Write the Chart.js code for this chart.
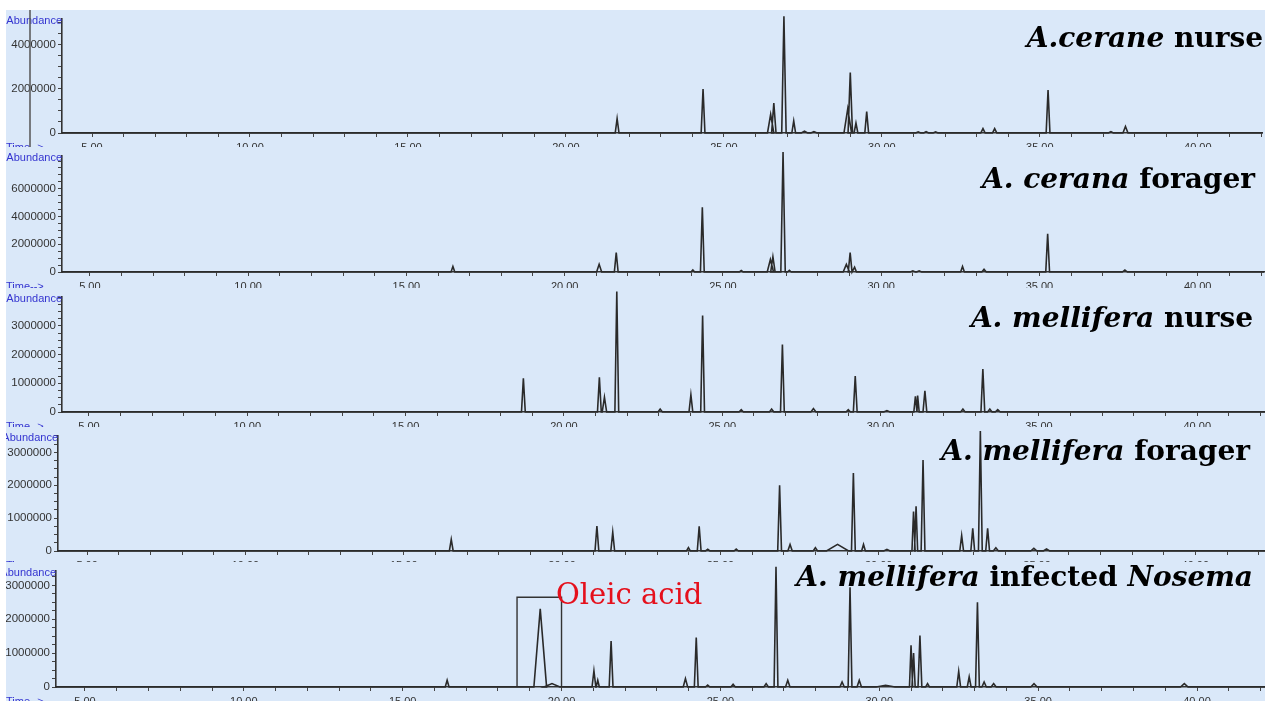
<!DOCTYPE html>
<html>
<head>
<meta charset="utf-8">
<script src="https://cdn.jsdelivr.net/npm/chart.js@4.4.0/dist/chart.umd.min.js"></script>
<style>
  html, body { margin: 0; padding: 0; background: #fff; }
  body { width: 1271px; height: 701px; position: relative; overflow: hidden; }
  #sheet { position: absolute; left: 6px; top: 10px; width: 1259px; height: 691px; background: rgb(218, 232, 249); }
  .panel { position: absolute; left: 6px; width: 1259px; }
</style>
</head>
<body>
<div id="sheet"></div>
<div class="panel" style="top:10px;height:137px"><canvas id="p1"></canvas></div>
<div class="panel" style="top:147px;height:141px"><canvas id="p2"></canvas></div>
<div class="panel" style="top:288px;height:139px"><canvas id="p3"></canvas></div>
<div class="panel" style="top:427px;height:135px"><canvas id="p4"></canvas></div>
<div class="panel" style="top:562px;height:139px"><canvas id="p5"></canvas></div>
<script>
// Axis ticks (retention time, min)
const xTickValues = [5, 10, 15, 20, 25, 30, 35, 40];
const xTickLabels = ['5.00', '10.00', '15.00', '20.00', '25.00', '30.00', '35.00', '40.00'];

// Abundance ticks per panel
const yTicks1 = [0, 2000000, 4000000];
const yTicks2 = [0, 2000000, 4000000, 6000000];
const yTicks3 = [0, 1000000, 2000000, 3000000];
const yTicks4 = [0, 1000000, 2000000, 3000000];
const yTicks5 = [0, 1000000, 2000000, 3000000];

// Panel 1 - A. cerana nurse
const ceranaNurseTimes   = [21.62, 24.34, 26.48, 26.58, 26.90, 27.21, 27.55, 27.85, 28.92, 29.00, 29.18, 29.52, 31.15, 31.40, 31.70, 33.20, 33.57, 35.26, 37.25, 37.71];
const ceranaNurseHeights = [650000, 2000000, 850000, 1360000, 5300000, 550000, 80000, 60000, 1100000, 2740000, 450000, 970000, 50000, 60000, 50000, 200000, 200000, 1950000, 60000, 300000];
const ceranaNurseWidths  = [0.06, 0.06, 0.10, 0.07, 0.07, 0.06, 0.10, 0.10, 0.12, 0.07, 0.06, 0.06, 0.08, 0.08, 0.08, 0.07, 0.07, 0.06, 0.08, 0.08];

// Panel 2 - A. cerana forager
const ceranaForagerTimes   = [16.47, 21.09, 21.63, 24.05, 24.35, 25.58, 26.50, 26.58, 26.90, 27.10, 28.90, 29.02, 29.16, 31.00, 31.20, 32.57, 33.25, 35.26, 37.70];
const ceranaForagerHeights = [400000, 550000, 1400000, 150000, 4660000, 100000, 900000, 1100000, 8650000, 120000, 550000, 1400000, 350000, 80000, 80000, 400000, 200000, 2750000, 150000];
const ceranaForagerWidths  = [0.06, 0.08, 0.06, 0.06, 0.06, 0.06, 0.10, 0.07, 0.07, 0.06, 0.10, 0.06, 0.06, 0.08, 0.08, 0.06, 0.07, 0.06, 0.08];

// Panel 3 - A. mellifera nurse
const melliferaNurseTimes   = [18.72, 21.12, 21.28, 21.67, 23.04, 24.01, 24.38, 25.60, 26.56, 26.90, 27.88, 28.98, 29.20, 30.20, 31.10, 31.17, 31.40, 32.60, 33.23, 33.45, 33.70];
const melliferaNurseHeights = [1170000, 1210000, 520000, 4200000, 100000, 600000, 3360000, 80000, 100000, 2350000, 120000, 80000, 1250000, 50000, 550000, 570000, 740000, 100000, 1500000, 100000, 80000];
const melliferaNurseWidths  = [0.06, 0.06, 0.07, 0.06, 0.07, 0.06, 0.06, 0.07, 0.07, 0.06, 0.08, 0.07, 0.06, 0.10, 0.05, 0.05, 0.06, 0.07, 0.06, 0.07, 0.08];

// Panel 4 - A. mellifera forager
const melliferaForagerTimes   = [16.50, 21.10, 21.60, 23.99, 24.33, 24.60, 25.50, 26.87, 27.20, 28.00, 28.70, 29.20, 29.52, 30.26, 31.10, 31.18, 31.40, 32.62, 32.97, 33.21, 33.44, 33.70, 34.90, 35.30];
const melliferaForagerHeights = [350000, 760000, 570000, 100000, 750000, 50000, 60000, 2000000, 200000, 100000, 200000, 2370000, 200000, 50000, 1200000, 1360000, 2770000, 470000, 690000, 3650000, 690000, 100000, 80000, 60000];
const melliferaForagerWidths  = [0.06, 0.06, 0.06, 0.06, 0.06, 0.07, 0.07, 0.06, 0.07, 0.07, 0.35, 0.06, 0.06, 0.10, 0.05, 0.05, 0.06, 0.06, 0.06, 0.06, 0.06, 0.08, 0.10, 0.10];

// Panel 5 - A. mellifera infected Nosema
const nosemaTimes   = [16.40, 19.33, 19.70, 21.02, 21.14, 21.56, 23.90, 24.24, 24.60, 25.40, 26.44, 26.75, 27.12, 28.83, 29.08, 29.37, 30.20, 31.00, 31.08, 31.28, 31.52, 32.50, 32.83, 33.09, 33.30, 33.60, 34.87, 39.60];
const nosemaHeights = [200000, 2310000, 100000, 480000, 200000, 1360000, 250000, 1460000, 60000, 80000, 100000, 3550000, 200000, 150000, 2950000, 200000, 50000, 1230000, 1000000, 1520000, 100000, 460000, 300000, 2500000, 150000, 100000, 100000, 100000];
const nosemaWidths  = [0.06, 0.20, 0.25, 0.06, 0.05, 0.06, 0.07, 0.06, 0.07, 0.07, 0.07, 0.06, 0.07, 0.07, 0.06, 0.07, 0.30, 0.05, 0.05, 0.06, 0.06, 0.06, 0.06, 0.06, 0.07, 0.08, 0.10, 0.12];

// Oleic acid bracket (min, abundance)
const oleicBoxTimes = [18.6, 20.0];
const oleicBoxTop = 2650000;

const minuteTicks = [];
for (let m = 5; m <= 42; m++) minuteTicks.push(m);

// Turn a peak list into a chromatogram trace
function buildTrace(times, heights, widths, xMin, xMax) {
    const pts = [{ x: xMin, y: 0 }];
    times.forEach((t, i) => {
        pts.push({ x: t - widths[i], y: 0 }, { x: t, y: heights[i] }, { x: t + widths[i], y: 0 });
    });
    pts.push({ x: xMax, y: 0 });
    return pts;
}

// Text overlays: Abundance / Time labels, panel title, annotations
const overlay = {
    id: 'overlay',
    afterDraw(chart) {
        const o = chart.options.plugins.overlay;
        const ctx = chart.ctx;
        const a = chart.chartArea;
        ctx.save();
        ctx.fillStyle = '#3434d0';
        ctx.font = '11px "Liberation Sans"';
        ctx.textAlign = 'right';
        ctx.textBaseline = 'top';
        ctx.fillText('Abundance', a.left, Math.max(a.top - 3, 1));
        ctx.textAlign = 'left';
        ctx.fillText('Time-->', 0, a.bottom + 9);

        if (o.artifactX != null) {
            ctx.strokeStyle = '#555';
            ctx.lineWidth = 1.5;
            ctx.beginPath();
            ctx.moveTo(o.artifactX, 0);
            ctx.lineTo(o.artifactX, chart.height);
            ctx.stroke();
        }

        // title, right aligned, mixed italic / upright
        ctx.fillStyle = '#000';
        ctx.textBaseline = 'alphabetic';
        const fonts = o.title.map(p => (p.italic ? 'italic ' : '') + 'bold ' + o.titleSize + 'px "DejaVu Serif"');
        let total = 0;
        o.title.forEach((p, i) => { ctx.font = fonts[i]; total += ctx.measureText(p.text).width; });
        let x = o.titleRight - total;
        o.title.forEach((p, i) => {
            ctx.font = fonts[i];
            ctx.fillText(p.text, x, o.titleBaseline);
            x += ctx.measureText(p.text).width;
        });

        if (o.note) {
            ctx.fillStyle = '#e5101c';
            ctx.font = '29px "DejaVu Serif"';
            ctx.fillText(o.note.text, o.note.x, o.note.y);
        }
        ctx.restore();
    }
};

function makePanel(id, p) {
    const datasets = [{
        data: buildTrace(p.times, p.heights, p.widths, p.xMin, p.xMax),
        borderColor: '#2a2a2a',
        borderWidth: 1.6,
        pointRadius: 0,
        tension: 0,
        clip: false
    }];
    if (p.box) {
        datasets.push({
            data: [
                { x: p.box[0], y: 0 }, { x: p.box[0], y: p.boxTop },
                { x: p.box[1], y: p.boxTop }, { x: p.box[1], y: 0 }
            ],
            borderColor: '#333',
            borderWidth: 1.4,
            pointRadius: 0,
            tension: 0
        });
    }
    const yStep = p.yTicks[1] / 4;
    const yAll = [];
    for (let v = 0; v <= p.yMax; v += yStep) yAll.push(v);

    return new Chart(document.getElementById(id), {
        type: 'line',
        data: { datasets },
        plugins: [overlay],
        options: {
            responsive: true,
            maintainAspectRatio: false,
            animation: false,
            events: [],
            layout: { padding: { top: p.padTop, left: 0, right: 0, bottom: 0 } },
            scales: {
                x: {
                    type: 'linear',
                    min: p.xMin,
                    max: p.xMax,
                    afterBuildTicks: s => { s.ticks = minuteTicks.filter(v => v >= s.min && v <= s.max).map(v => ({ value: v })); },
                    afterFit: s => { s.height = p.xHeight; },
                    ticks: {
                        autoSkip: false,
                        maxRotation: 0,
                        padding: 4,
                        color: '#333',
                        font: { family: 'Liberation Sans', size: 11 },
                        callback: v => { const i = xTickValues.indexOf(v); return i >= 0 ? xTickLabels[i] : ''; }
                    },
                    grid: { drawOnChartArea: false, drawTicks: true, tickLength: 4, color: '#444' },
                    border: { color: '#333', width: 1.6 }
                },
                y: {
                    min: 0,
                    max: p.yMax,
                    afterBuildTicks: s => { s.ticks = yAll.map(v => ({ value: v })); },
                    afterFit: s => { s.width = p.yWidth; },
                    ticks: {
                        autoSkip: false,
                        padding: 2,
                        color: '#333',
                        font: { family: 'Liberation Sans', size: 11.5 },
                        callback: v => (p.yTicks.indexOf(v) >= 0 ? String(v) : '')
                    },
                    grid: { drawOnChartArea: false, drawTicks: true, tickLength: 4, color: '#444' },
                    border: { color: '#333', width: 1.6 }
                }
            },
            plugins: {
                legend: { display: false },
                tooltip: { enabled: false },
                overlay: {
                    title: p.title,
                    titleSize: 28,
                    titleRight: p.titleRight,
                    titleBaseline: p.titleBaseline,
                    artifactX: p.artifactX,
                    note: p.note
                }
            }
        }
    });
}

makePanel('p1', {
    times: ceranaNurseTimes, heights: ceranaNurseHeights, widths: ceranaNurseWidths,
    xMin: 4.05, xMax: 42.05, yMax: 5180000, yTicks: yTicks1,
    padTop: 0, xHeight: 14, yWidth: 56,
    title: [{ text: 'A.cerane', italic: true }, { text: ' nurse' }],
    titleRight: 1257, titleBaseline: 37, artifactX: 24
});
makePanel('p2', {
    times: ceranaForagerTimes, heights: ceranaForagerHeights, widths: ceranaForagerWidths,
    xMin: 4.12, xMax: 42.1, yMax: 8370000, yTicks: yTicks2,
    padTop: 6, xHeight: 16, yWidth: 56,
    title: [{ text: 'A. cerana', italic: true }, { text: ' forager' }],
    titleRight: 1249, titleBaseline: 41
});
makePanel('p3', {
    times: melliferaNurseTimes, heights: melliferaNurseHeights, widths: melliferaNurseWidths,
    xMin: 4.15, xMax: 42.14, yMax: 4010000, yTicks: yTicks3,
    padTop: 5, xHeight: 15, yWidth: 56,
    title: [{ text: 'A. mellifera', italic: true }, { text: ' nurse' }],
    titleRight: 1247, titleBaseline: 39
});
makePanel('p4', {
    times: melliferaForagerTimes, heights: melliferaForagerHeights, widths: melliferaForagerWidths,
    xMin: 4.08, xMax: 42.2, yMax: 3500000, yTicks: yTicks4,
    padTop: 5, xHeight: 11, yWidth: 52,
    title: [{ text: 'A. ', italic: true }, { text: 'mellifera', italic: true }, { text: ' forager' }],
    titleRight: 1244, titleBaseline: 33
});
makePanel('p5', {
    times: nosemaTimes, heights: nosemaHeights, widths: nosemaWidths,
    xMin: 4.09, xMax: 42.14, yMax: 3430000, yTicks: yTicks5,
    padTop: 6, xHeight: 14, yWidth: 50,
    box: oleicBoxTimes, boxTop: oleicBoxTop,
    title: [{ text: 'A. mellifera', italic: true }, { text: ' infected ' }, { text: 'Nosema', italic: true }],
    titleRight: 1247, titleBaseline: 24,
    note: { text: 'Oleic acid', x: 550, y: 42 }
});
</script>
</body>
</html>
